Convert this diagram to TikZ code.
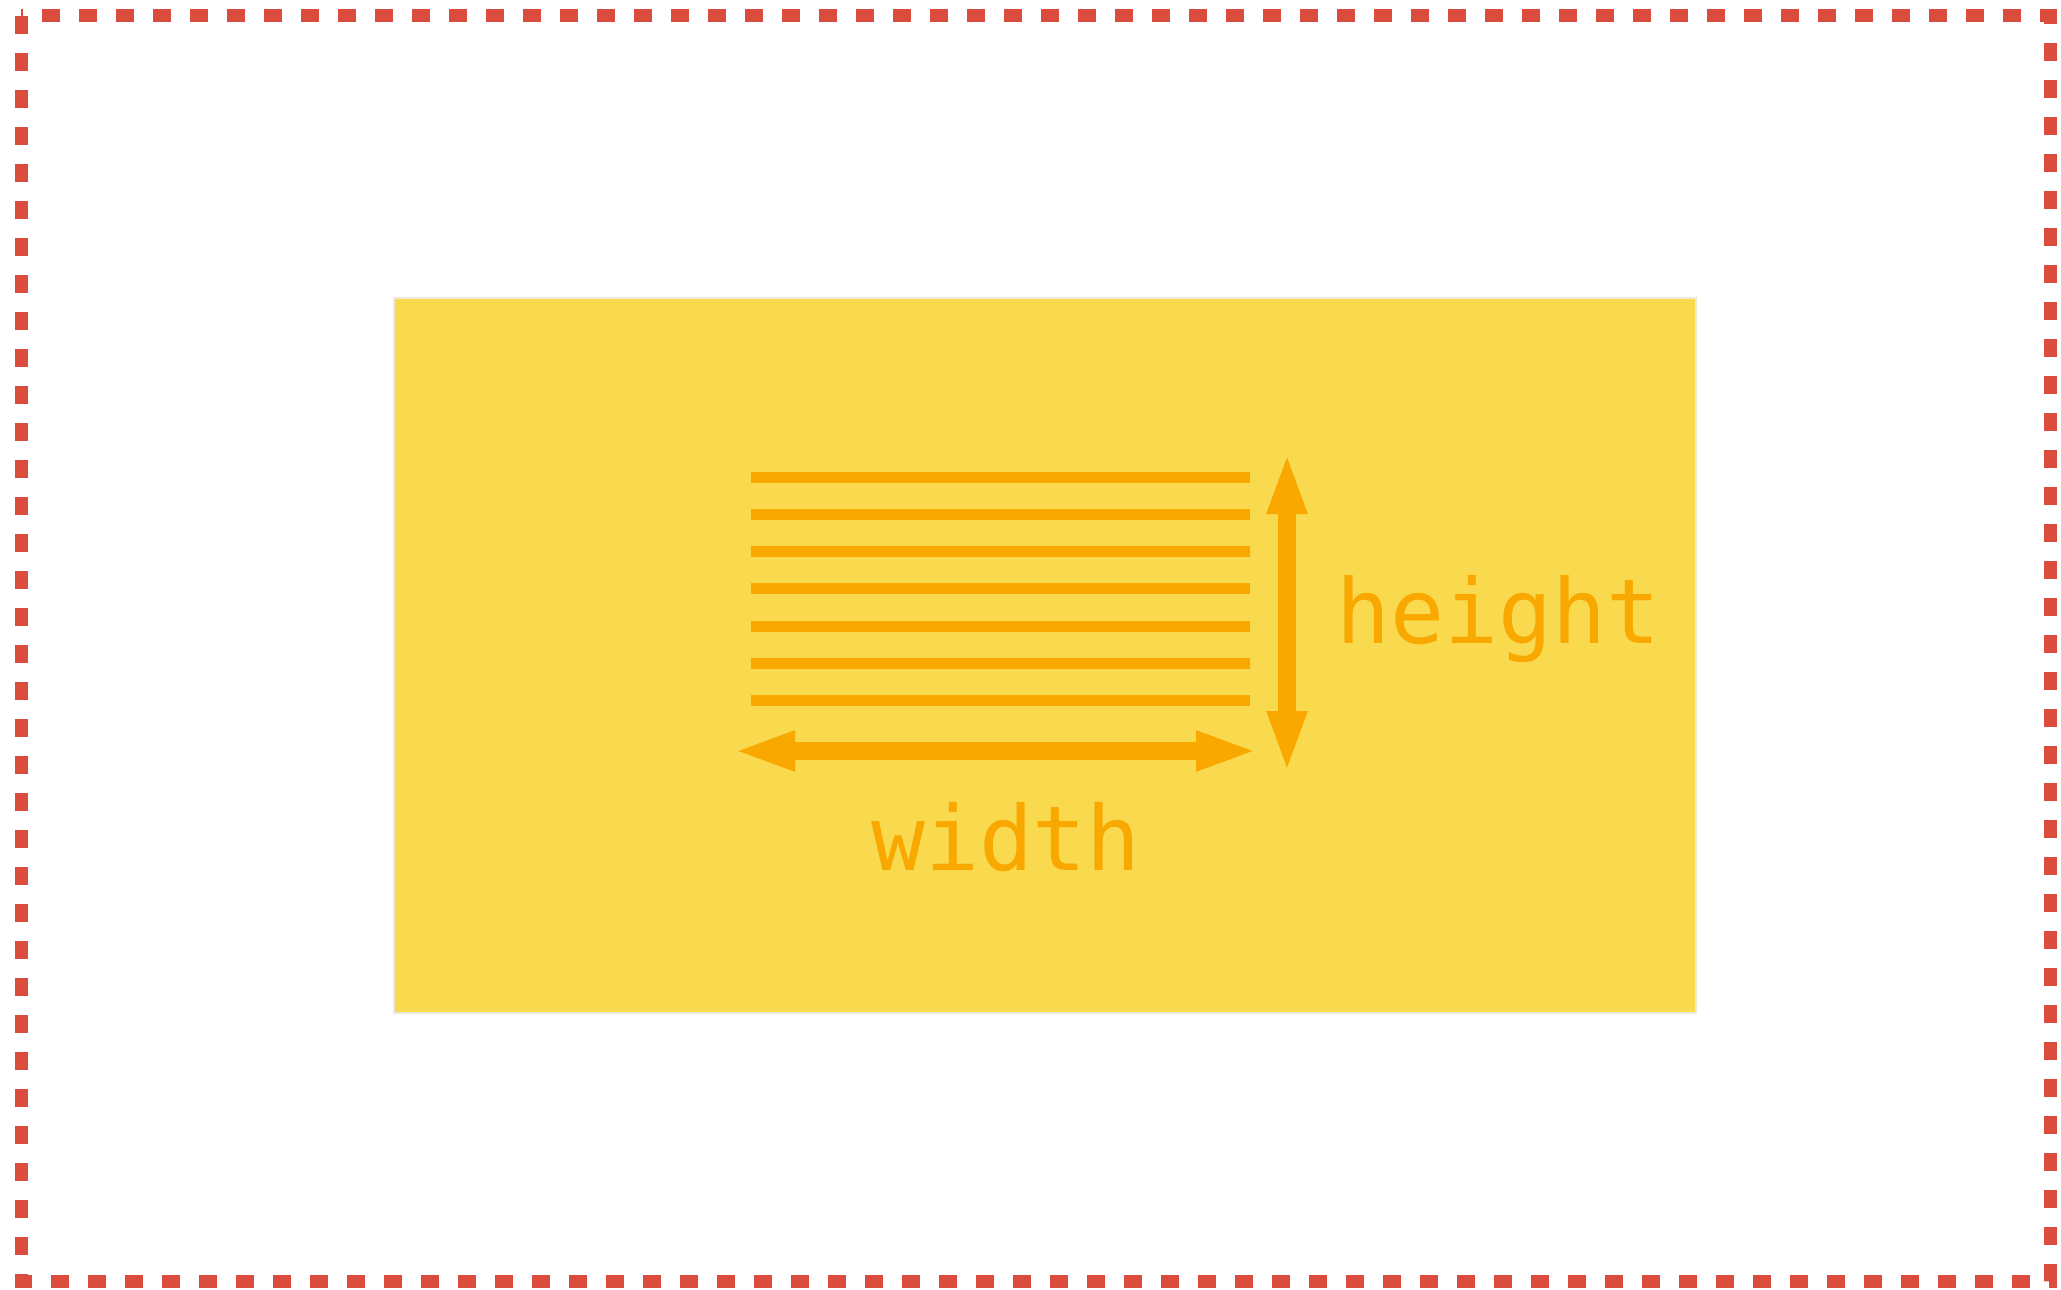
\documentclass[tikz,border=0pt]{standalone}
\usepackage{fontspec}
\setmonofont{DejaVu Sans Mono}
\usetikzlibrary{arrows.meta}
\definecolor{frame}{RGB}{218,76,62}
\definecolor{paper}{RGB}{249,217,78}
\definecolor{ink}{RGB}{249,168,0}
\tikzset{
  label/.style={text=ink, font=\ttfamily\fontsize{25.5}{30}\selectfont, inner sep=0pt},
  row/.style={ink, line width=0.11cm},
  measure/.style={ink, line width=0.18cm, {Triangle[length=0.62cm,width=0.36cm]}-{Triangle[length=0.62cm,width=0.36cm]}},
}
\begin{document}
\begin{tikzpicture}
\useasboundingbox (0,0) rectangle (20.61,12.89);
\draw [frame, line width=0.13cm, dash pattern=on 0.18cm off 0.19cm] (0.21,12.73) rectangle (20.50,0.08);
\draw [fill=paper, draw={rgb,255:red,240;green,232;blue,214}, line width=0.4pt] (3.94,9.91) rectangle (16.96,2.76);

% the lines of text
\foreach \k in {0,...,6}
  \draw [row] (7.51,{8.12-0.373*\k}) -- (12.50,{8.12-0.373*\k});

\coordinate (wl) at (7.33,5.38);
\coordinate (wr) at (12.58,5.38);
\coordinate (ht) at (12.87,8.37);
\coordinate (hb) at (12.87,5.16);
\draw [measure] (wl) -- (wr);
\draw [measure] (ht) -- (hb);

\node [label, anchor=base west] (hgt) at (13.36,6.46) {height};
\node [label, anchor=base] (wdt) at (10.06,4.19) {width};
\end{tikzpicture}
\end{document}
